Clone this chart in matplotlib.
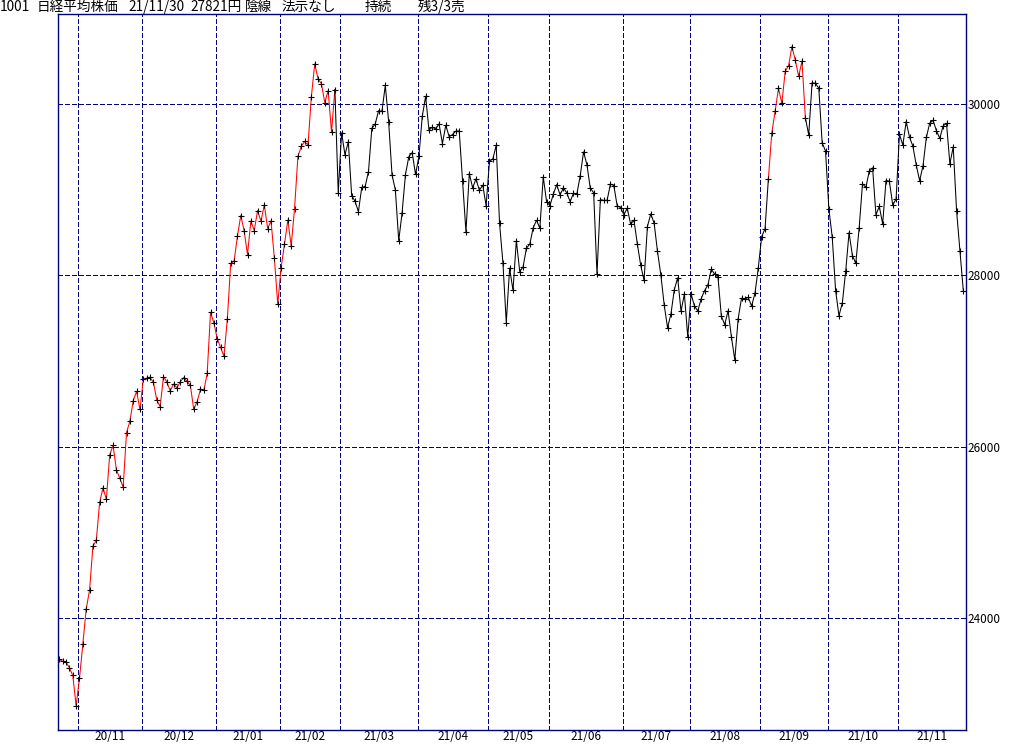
import matplotlib
matplotlib.use("Agg")
import matplotlib.pyplot as plt
import numpy as np

# daily closes, Nikkei 225
oct20 = [23516, 23494, 23485, 23418, 23331, 22977]
nov20 = [23295, 23695, 24105, 24325, 24839, 24905, 25349, 25520, 25385, 25906,
         26014, 25728, 25634, 25527, 26165, 26297, 26537, 26645, 26434]
dec20 = [26787, 26800, 26809, 26751, 26547, 26467, 26817, 26756, 26652, 26732,
         26687, 26757, 26806, 26763, 26714, 26436, 26524, 26668, 26656, 26854,
         27568, 27444]
jan21 = [27258, 27158, 27055, 27490, 28139, 28164, 28456, 28698, 28519, 28242,
         28633, 28523, 28756, 28631, 28822, 28546, 28635, 28197, 27663]
feb21 = [28091, 28362, 28646, 28341, 28779, 29388, 29505, 29562, 29520, 30084,
         30467, 30292, 30236, 30017, 30156, 29671, 30168, 28966]
mar21 = [29663, 29408, 29559, 28930, 28864, 28743, 29028, 29036, 29211, 29717,
         29766, 29921, 29914, 30216, 29792, 29174, 28995, 28405, 28729, 29176,
         29384, 29432, 29178]
apr21 = [29388, 29854, 30089, 29696, 29730, 29708, 29768, 29538, 29751, 29620,
         29642, 29683, 29685, 29100, 28508, 29188, 29020, 29126, 28991, 29053,
         28812]
may21 = [29331, 29357, 29518, 28608, 28147, 27448, 28084, 27824, 28406, 28044,
         28098, 28317, 28364, 28553, 28642, 28549, 29149, 28860]
jun21 = [28814, 28946, 29058, 28941, 29019, 28963, 28860, 28958, 28948, 29161,
         29441, 29291, 29018, 28964, 28010, 28884, 28874, 28875, 29066, 29048,
         28812, 28791]
jul21 = [28707, 28783, 28598, 28643, 28366, 28118, 27940, 28569, 28718, 28608,
         28279, 28003, 27652, 27388, 27548, 27833, 27970, 27581, 27782, 27283]
aug21 = [27781, 27641, 27584, 27728, 27820, 27888, 28070, 28015, 27977, 27523,
         27424, 27585, 27281, 27013, 27494, 27732, 27724, 27742, 27641, 27789,
         28089]
sep21 = [28451, 28543, 29128, 29659, 29916, 30181, 30008, 30381, 30447, 30670,
         30511, 30323, 30500, 29839, 29639, 30248, 30240, 30183, 29544, 29452]
oct21 = [28771, 28444, 27822, 27528, 27678, 28048, 28498, 28230, 28140, 28550,
         29068, 29025, 29215, 29255, 28708, 28804, 28600, 29106, 29098, 28820,
         28892]
nov21 = [29647, 29520, 29794, 29611, 29507, 29285, 29106, 29277, 29609, 29776,
         29808, 29688, 29598, 29745, 29774, 29302, 29499, 28751, 28283, 27821]

all_months = [oct20, nov20, dec20, jan21, feb21, mar21, apr21, may21, jun21,
              jul21, aug21, sep21, oct21, nov21]
month_labels = ["20/11", "20/12", "21/01", "21/02", "21/03", "21/04", "21/05",
                "21/06", "21/07", "21/08", "21/09", "21/10", "21/11"]

# index ranges drawn in red (signal on)
red_spans = [(0, 82), (211, 222)]

title_parts = [("1001", 0), ("日経平均株価", 37), ("21/11/30", 128), ("27821円", 190),
               ("陰線", 245), ("法示なし", 282), ("持続", 365), ("残3/3売", 418)]

close = np.array(sum(all_months, []), dtype=float)
x = np.arange(len(close))
month_start = np.cumsum([len(m) for m in all_months])[:-1]

navy = "#000080"
plt.rcParams["lines.scale_dashes"] = False
fig = plt.figure(figsize=(10.24, 7.45), dpi=100)
ax = fig.add_axes([58 / 1024, 15 / 745, 908 / 1024, 716 / 745])

xmin, xmax = -0.39, 269.8
ax.set_xlim(xmin, xmax)
ax.set_ylim(22693, 31050)

# line segments, red / black
edges = [0]
for a, b in red_spans:
    edges += [a, b]
edges.append(len(close) - 1)
edges = sorted(set(edges))
red_starts = [a for a, b in red_spans]
for a, b in zip(edges[:-1], edges[1:]):
    col = "red" if a in red_starts else "black"
    ax.plot(x[a:b + 1], close[a:b + 1], color=col, lw=0.75, zorder=3)
ax.plot(x, close, ls="none", marker="+", ms=4, mew=0.8, color="black",
        antialiased=False, zorder=4)

# month grid and labels
grid_x = month_start - 0.4
ax.set_xticks(grid_x)
ax.set_xticklabels([])
ax.tick_params(axis="x", which="major", length=0)
bounds = list(grid_x) + [xmax]
centers = [(bounds[i] + bounds[i + 1]) / 2 for i in range(len(grid_x))]
ax.set_xticks(centers, minor=True)
ax.set_xticklabels(month_labels, minor=True, fontsize=8.5,
                   family=["Noto Sans CJK JP", "DejaVu Sans"])
ax.tick_params(axis="x", which="minor", length=0, pad=0)

ax.set_yticks([24000, 26000, 28000, 30000])
ax.set_yticklabels(["24000", "26000", "28000", "30000"], fontsize=8.5,
                   family=["Noto Sans CJK JP", "DejaVu Sans"])
ax.yaxis.tick_right()
ax.tick_params(axis="y", length=0, pad=1)

ax.grid(True, which="major", color=navy, lw=0.72, ls=(0, (3, 2)),
        antialiased=False)
for s in ax.spines.values():
    s.set_color(navy)
    s.set_linewidth(1.0)

for txt, px in title_parts:
    fig.text(px / 1024, 1 - 7 / 745, txt, fontsize=9.8, va="center", ha="left",
             family=["Noto Sans CJK JP", "DejaVu Sans"])

fig.savefig("out.png", dpi=100)
